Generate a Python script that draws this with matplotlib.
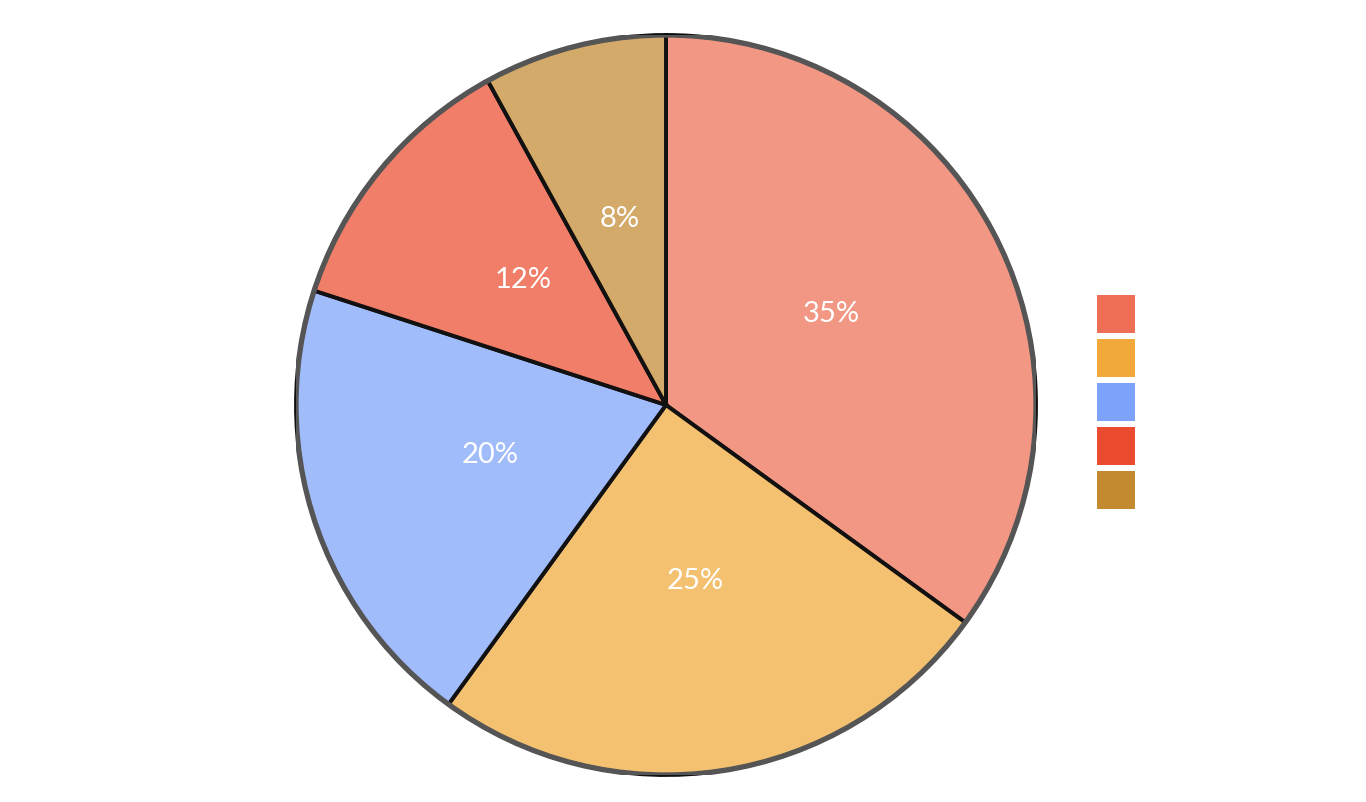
import matplotlib.pyplot as plt
import matplotlib.transforms as mtransforms
from matplotlib.patches import Patch, Circle
from matplotlib.colors import to_rgba

# slice values (percent), clockwise from 12 o'clock
values = [35, 25, 20, 12, 8]
colors = ["#EE6F55", "#F1A93B", "#7DA2F9", "#EB4C2F", "#C38A30"]
legend_labels = ["", "", "", "", ""]

plt.rcParams['font.family'] = ['Lato', 'DejaVu Sans']

W, H = 1366, 802
fig = plt.figure(figsize=(W / 100, H / 100), dpi=100)

# pie centre (666, 405) from top, radius 370 px
cx, cy, r = 666, H - 405, 370
ax = fig.add_axes([(cx - r) / W, (cy - r) / H, 2 * r / W, 2 * r / H])

fills = [to_rgba(c, 0.72) for c in colors]
wedges, texts, autotexts = ax.pie(
    values, colors=fills, startangle=90, counterclock=False,
    autopct='%d%%', pctdistance=0.5, radius=1,
    wedgeprops=dict(edgecolor='#111111', linewidth=2.8),
    textprops=dict(color='white', fontsize=21))

# nudge labels up a little
shift = mtransforms.ScaledTranslation(0, 7 / 100, fig.dpi_scale_trans)
for t in autotexts:
    t.set_transform(t.get_transform() + shift)

# grey outline over the outer arc
ax.add_patch(Circle((0, 0), 1, fill=False, edgecolor='#555555', linewidth=3.8, zorder=5))
ax.set_xlim(-1, 1)
ax.set_ylim(-1, 1)
ax.set_aspect('equal')
ax.axis('off')

fs = 10
px = fs * 100 / 72
hh = (38 / px - 0.245) / 0.65
handles = [Patch(facecolor=c, edgecolor='none') for c in colors]
fig.legend(handles, legend_labels, loc='center left',
           bbox_to_anchor=(1097 / W, 1 - 402 / H), frameon=False,
           fontsize=fs, handlelength=38 / px, handleheight=hh,
           labelspacing=6 / px, handletextpad=0, borderpad=0, borderaxespad=0)

fig.savefig('out.png', dpi=100)
